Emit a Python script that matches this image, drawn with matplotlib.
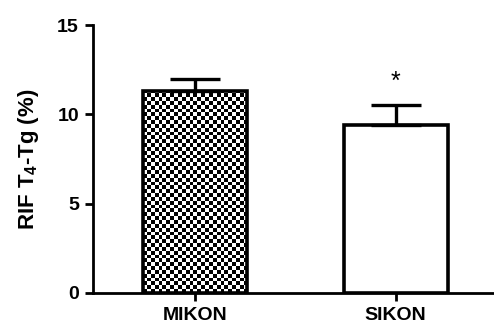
import numpy as np
import matplotlib.pyplot as plt

plt.rcParams['font.family'] = ['Liberation Sans', 'DejaVu Sans']
plt.rcParams['mathtext.fontset'] = 'custom'
plt.rcParams['mathtext.bf'] = 'Liberation Sans:bold'
plt.rcParams['mathtext.rm'] = 'Liberation Sans'

groups = ['MIKON', 'SIKON']
means = [11.3, 9.4]
sem = [0.7, 1.1]
stars = ['', '*']

fig = plt.figure(figsize=(4.94, 3.25), dpi=100)
ax = fig.add_axes([0.188, 0.0985, 0.812, 0.8245])

x = np.arange(len(groups))
width = 0.52
bars = ax.bar(x, means, width, facecolor='none', edgecolor='black',
              linewidth=2.6, zorder=2)
ax.errorbar(x, means, yerr=[np.zeros(len(sem)), sem], fmt='none',
            ecolor='black', elinewidth=2.4, capsize=18, capthick=2.4, zorder=1)

# checkerboard fill for the first bar
b = bars[0]
x0, w, h = b.get_x(), b.get_width(), b.get_height()
cw, ch = 0.0192, 0.215
nx, ny = int(np.ceil(w / cw)), int(np.ceil(h / ch))
yy, xx = np.indices((ny, nx))
board = (xx + yy) % 2
im = ax.imshow(board, cmap='gray', interpolation='nearest', aspect='auto',
               origin='lower', extent=(x0, x0 + nx * cw, 0, ny * ch), zorder=0)
im.set_clip_path(b)

for xi, m, s, t in zip(x, means, sem, stars):
    if t:
        ax.annotate(t, (xi, m + s), xytext=(0, 8), textcoords='offset points',
                    ha='center', va='bottom', fontsize=18)

ax.set_xlim(-0.51, 1.49)
ax.set_ylim(0, 15)
ax.set_yticks([0, 5, 10, 15])
ax.set_xticks(x)
ax.set_xticklabels(groups, fontweight='bold')
for lbl in ax.get_yticklabels():
    lbl.set_fontweight('bold')
ax.set_ylabel(r'RIF T$_\mathbf{4}$-Tg (%)', fontsize=16, fontweight='bold', labelpad=12)
ax.tick_params(labelsize=14, width=2, length=6, pad=4)
ax.spines['top'].set_visible(False)
ax.spines['right'].set_visible(False)
ax.spines['left'].set_linewidth(2)
ax.spines['bottom'].set_linewidth(2)

fig.savefig('out.png', dpi=100)
